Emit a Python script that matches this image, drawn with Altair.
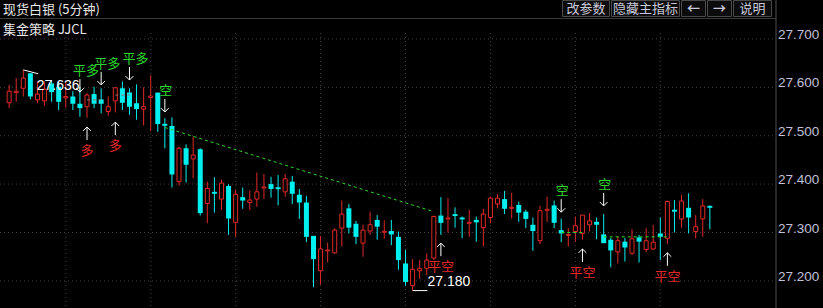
import altair as alt
import pandas as pd

# ---- candle data (5-minute bars) ----
opens = [27.568, 27.589, 27.598, 27.629, 27.574, 27.572, 27.608, 27.601, 27.578, 27.581,
         27.566, 27.560, 27.586, 27.575, 27.550, 27.572, 27.598, 27.589, 27.567, 27.555,
         27.579, 27.589, 27.524, 27.520, 27.405, 27.474, 27.452, 27.472, 27.360, 27.384,
         27.369, 27.396, 27.321, 27.373, 27.362, 27.369, 27.392, 27.400, 27.392, 27.384,
         27.405, 27.378, 27.362, 27.293, 27.221, 27.262, 27.258, 27.309, 27.350, 27.318,
         27.278, 27.303, 27.326, 27.301, 27.303, 27.291, 27.236, 27.190, 27.221, 27.226,
         27.247, 27.335, 27.328, 27.337, 27.330, 27.319, 27.326, 27.310, 27.331, 27.359,
         27.369, 27.350, 27.357, 27.343, 27.316, 27.283, 27.346, 27.356, 27.305, 27.294,
         27.302, 27.298, 27.316, 27.322, 27.296, 27.285, 27.260, 27.281, 27.257, 27.290,
         27.265, 27.266, 27.298, 27.288, 27.346, 27.328, 27.351, 27.302, 27.328, 27.354]
highs = [27.605, 27.619, 27.636, 27.629, 27.612, 27.612, 27.615, 27.612, 27.612, 27.592,
         27.601, 27.588, 27.601, 27.598, 27.581, 27.600, 27.612, 27.598, 27.606, 27.600,
         27.625, 27.589, 27.536, 27.538, 27.477, 27.482, 27.498, 27.474, 27.405, 27.414,
         27.409, 27.400, 27.388, 27.393, 27.387, 27.424, 27.421, 27.415, 27.419, 27.421,
         27.417, 27.390, 27.375, 27.293, 27.293, 27.279, 27.309, 27.366, 27.359, 27.324,
         27.316, 27.343, 27.336, 27.325, 27.326, 27.302, 27.264, 27.245, 27.243, 27.257,
         27.335, 27.373, 27.371, 27.352, 27.333, 27.347, 27.333, 27.349, 27.374, 27.379,
         27.386, 27.382, 27.364, 27.347, 27.331, 27.355, 27.374, 27.366, 27.329, 27.309,
         27.333, 27.336, 27.340, 27.331, 27.338, 27.289, 27.291, 27.289, 27.307, 27.295,
         27.309, 27.316, 27.331, 27.366, 27.367, 27.378, 27.381, 27.336, 27.369, 27.356]
lows = [27.557, 27.570, 27.581, 27.575, 27.567, 27.562, 27.570, 27.553, 27.558, 27.553,
        27.539, 27.537, 27.557, 27.546, 27.541, 27.548, 27.553, 27.543, 27.533, 27.521,
        27.510, 27.508, 27.474, 27.393, 27.397, 27.403, 27.412, 27.335, 27.319, 27.341,
        27.347, 27.295, 27.291, 27.349, 27.347, 27.353, 27.369, 27.372, 27.356, 27.374,
        27.359, 27.328, 27.280, 27.187, 27.192, 27.238, 27.256, 27.271, 27.298, 27.276,
        27.250, 27.295, 27.285, 27.287, 27.274, 27.223, 27.190, 27.180, 27.204, 27.212,
        27.243, 27.295, 27.300, 27.310, 27.288, 27.291, 27.281, 27.271, 27.319, 27.350,
        27.338, 27.329, 27.322, 27.309, 27.262, 27.276, 27.322, 27.309, 27.280, 27.271,
        27.281, 27.285, 27.302, 27.286, 27.278, 27.228, 27.236, 27.240, 27.254, 27.238,
        27.259, 27.264, 27.243, 27.276, 27.300, 27.310, 27.298, 27.288, 27.291, 27.307]
closes = [27.592, 27.592, 27.619, 27.581, 27.586, 27.596, 27.590, 27.570, 27.581, 27.566,
          27.557, 27.584, 27.566, 27.566, 27.560, 27.599, 27.568, 27.560, 27.555, 27.560,
          27.582, 27.524, 27.521, 27.420, 27.474, 27.440, 27.460, 27.340, 27.391, 27.380,
          27.402, 27.329, 27.379, 27.366, 27.367, 27.384, 27.394, 27.390, 27.391, 27.411,
          27.380, 27.362, 27.291, 27.245, 27.266, 27.264, 27.305, 27.338, 27.310, 27.291,
          27.305, 27.316, 27.312, 27.302, 27.296, 27.243, 27.198, 27.224, 27.226, 27.243,
          27.333, 27.320, 27.330, 27.335, 27.328, 27.321, 27.321, 27.338, 27.371, 27.371,
          27.349, 27.352, 27.341, 27.328, 27.303, 27.345, 27.348, 27.320, 27.298, 27.296,
          27.314, 27.336, 27.324, 27.316, 27.278, 27.263, 27.283, 27.269, 27.287, 27.281,
          27.283, 27.280, 27.291, 27.364, 27.344, 27.365, 27.331, 27.312, 27.355, 27.352]

# ---- axes / grid ----
y_ticks = [27.2, 27.3, 27.4, 27.5, 27.6, 27.7]
grid_bars = [8, 20, 32, 44, 56, 68, 80, 92]

# ---- strategy signals ----
sig_idx = [10, 11, 13, 15, 17, 22, 61, 78, 81, 84, 93]
sig_price = [27.590, 27.518, 27.605, 27.528, 27.615, 27.549, 27.278, 27.342, 27.266, 27.355, 27.258]
sig_label = ["平多", "多", "平多", "多", "平多", "空", "平空", "空", "平空", "空", "平空"]
sig_dir = ["down", "up", "down", "up", "down", "down", "up", "down", "up", "down", "up"]

# short stop lines (green dashed)
stop_start = [22, 78, 84]
stop_end = [60, 81, 93]
stop_p1 = [27.517, 27.300, 27.291]
stop_p2 = [27.343, 27.300, 27.291]

# long stop lines
long_start = [11, 15]
long_end = [13, 17]
long_p = [27.574, 27.584]

buttons = ["改参数", "隐藏主指标", "←", "→", "说明"]
btn_x1 = [562, 611, 681, 707, 733]
btn_x2 = [610, 680, 706, 732, 772]

RED = "#e02828"
CYAN = "#00f0f0"
GREEN = "#2ad62a"
GRID = "#404040"
W, H = 776, 288

rows = []
for i, (o, h, l, c) in enumerate(zip(opens, highs, lows, closes)):
    up = c >= o
    lo, hi = min(o, c), max(o, c)
    m = 0.002 if up else 0.004
    if hi - lo < m:
        mid = (hi + lo) / 2
        lo, hi = mid - m / 2, mid + m / 2
    rows.append(dict(i=i, open=o, high=h, low=l, close=c, up=up, blo=lo, bhi=hi))
df = pd.DataFrame(rows)

xs = alt.Scale(domain=[-0.586, 107.64], nice=False, zero=False)
ys = alt.Scale(domain=[27.14401, 27.73905], nice=False, zero=False)

def X(f):
    return alt.X(f, type="quantitative", scale=xs, axis=None)

def Y(f):
    return alt.Y(f, type="quantitative", scale=ys, axis=None)

ticks_df = pd.DataFrame({"v": y_ticks, "lab": [f"{v:.3f}" for v in y_ticks]})

hgrid = alt.Chart(ticks_df).mark_rule(
    color=GRID, strokeDash=[1, 3], strokeWidth=1).encode(
    y=Y("v"), x=alt.value(0), x2=alt.value(W))

ylabels = alt.Chart(ticks_df).mark_text(
    align="left", baseline="alphabetic", font="Liberation Sans", fontSize=13.5,
    color="#c0c0d8").encode(y=Y("v"), x=alt.value(W + 2), text="lab:N")

vgrid = alt.Chart(pd.DataFrame({"g": grid_bars})).mark_rule(
    color=GRID, strokeDash=[1, 3], strokeWidth=1).encode(
    x=X("g"), y=alt.value(13), y2=alt.value(H))

wicks = alt.Chart(df).mark_rule(strokeWidth=1).encode(
    x=X("i"),
    y=Y("low"),
    y2="high:Q",
    color=alt.condition("datum.up", alt.value(RED), alt.value(CYAN)),
)

red_bodies = alt.Chart(df).transform_filter("datum.up").mark_bar(
    width=4, fill="#000000", stroke=RED, strokeWidth=1).encode(
    x=X("i"), y=Y("blo"), y2="bhi:Q")

cyan_bodies = alt.Chart(df).transform_filter("!datum.up").mark_bar(
    width=5, color=CYAN).encode(x=X("i"), y=Y("blo"), y2="bhi:Q")

stops = alt.Chart(pd.DataFrame({"s": stop_start, "e": stop_end, "p1": stop_p1, "p2": stop_p2})).mark_rule(
    color=GREEN, strokeDash=[3, 3], strokeWidth=1).encode(
    x=X("s"), x2="e:Q", y=Y("p1"), y2="p2:Q")

longs = alt.Chart(pd.DataFrame({"s": long_start, "e": long_end, "p": long_p})).mark_rule(
    color="#a07070", strokeDash=[3, 3], strokeWidth=1).encode(
    x=X("s"), x2="e:Q", y=Y("p"))

sig = pd.DataFrame({"i": sig_idx, "p": sig_price, "label": sig_label, "dir": sig_dir})
DOWN = "M0,-2L0,0M-0.6,-0.6L0,0L0.6,-0.6"
UP = "M0,2L0,0M-0.6,0.6L0,0L0.6,0.6"

arrows_dn = alt.Chart(sig).transform_filter("datum.dir == 'down'").mark_point(
    shape=DOWN, size=169, filled=False, color="#ffffff", strokeWidth=1, opacity=1).encode(
    x=X("i"), y=Y("p"))
arrows_up = alt.Chart(sig).transform_filter("datum.dir == 'up'").mark_point(
    shape=UP, size=169, filled=False, color="#ffffff", strokeWidth=1, opacity=1).encode(
    x=X("i"), y=Y("p"))

txt_kw = dict(font="Noto Sans CJK SC", fontSize=13, baseline="middle", align="center")
t_pingduo = alt.Chart(sig).transform_filter("datum.label == '平多'").mark_text(
    dy=-21, dx=6, color=GREEN, **txt_kw).encode(x=X("i"), y=Y("p"), text="label:N")
t_kong = alt.Chart(sig).transform_filter("datum.label == '空'").mark_text(
    dy=-21, dx=1, color=GREEN, **txt_kw).encode(x=X("i"), y=Y("p"), text="label:N")
t_up = alt.Chart(sig).transform_filter("datum.dir == 'up'").mark_text(
    dy=24, dx=0, color=RED, **txt_kw).encode(x=X("i"), y=Y("p"), text="label:N")

# extreme labels
imax = max(range(len(highs)), key=lambda k: highs[k])
imin = min(range(len(lows)), key=lambda k: lows[k])
hl = pd.DataFrame({"i": [imax], "p": [highs[imax]], "lab": [f"{highs[imax]:.3f}"]})
ll = pd.DataFrame({"i": [imin], "p": [lows[imin]], "lab": [f"{lows[imin]:.3f}"]})

hi_line = alt.Chart(hl).transform_calculate(e="datum.i + 2.1", p2="datum.p - 0.008").mark_rule(
    color="#ffffff").encode(x=X("i"), x2="e:Q", y=Y("p"), y2="p2:Q")
hi_text = alt.Chart(hl).transform_calculate(e="datum.i + 1.9").mark_text(
    align="left", baseline="middle", dy=16, font="Liberation Sans", fontSize=14, color="#ffffff").encode(
    x=X("e"), y=Y("p"), text="lab:N")
lo_line = alt.Chart(ll).transform_calculate(e="datum.i + 2.1").mark_rule(
    color="#ffffff").encode(x=X("i"), x2="e:Q", y=Y("p"))
lo_text = alt.Chart(ll).transform_calculate(e="datum.i + 2.1").mark_text(
    align="left", baseline="middle", dy=-9, font="Liberation Sans", fontSize=14, color="#ffffff").encode(
    x=X("e"), y=Y("p"), text="lab:N")

one = pd.DataFrame({"k": [0]})
ui = []
ui.append(alt.Chart(one).mark_rule(color="#3a3a3a").encode(
    x=alt.value(0), x2=alt.value(W), y=alt.value(-1.5)))
ui.append(alt.Chart(one).mark_rule(color="#505050").encode(
    x=alt.value(W), y=alt.value(-20), y2=alt.value(H)))
ui.append(alt.Chart(one).mark_text(text="现货白银 (5分钟)", align="left", baseline="middle",
    font="Noto Sans CJK SC", fontSize=13, color="#e8e8e8").encode(x=alt.value(3), y=alt.value(-10)))
ui.append(alt.Chart(one).mark_text(text="集金策略 JJCL", align="left", baseline="middle",
    font="Noto Sans CJK SC", fontSize=13, color="#e8e8e8").encode(x=alt.value(3), y=alt.value(10)))
for lab, a, b in zip(buttons, btn_x1, btn_x2):
    ui.append(alt.Chart(one).mark_rect(fill="#0c0c0c", stroke="#4a4a4a", strokeWidth=1).encode(
        x=alt.value(a + 0.5), x2=alt.value(b - 0.5), y=alt.value(-19.5), y2=alt.value(-3.5)))
    ui.append(alt.Chart(one).mark_text(text=lab, align="center", baseline="middle",
        font="Noto Sans CJK SC", fontSize=13, fontWeight="bold" if lab in ("←", "→") else "normal",
        color="#c8c8d8").encode(x=alt.value((a + b) / 2), y=alt.value(-11)))

chart = alt.layer(
    hgrid, vgrid, wicks, red_bodies, cyan_bodies, stops, longs,
    arrows_dn, arrows_up, t_pingduo, t_kong, t_up,
    hi_line, hi_text, lo_line, lo_text, ylabels, *ui
).properties(
    width=W, height=H, background="#000000",
    padding={"left": 0, "top": 20, "right": 47, "bottom": 0},
    autosize=alt.AutoSizeParams(type="none"),
).configure_view(stroke=None)

chart.save("out.html", embed_options={"renderer": "svg", "actions": False})
